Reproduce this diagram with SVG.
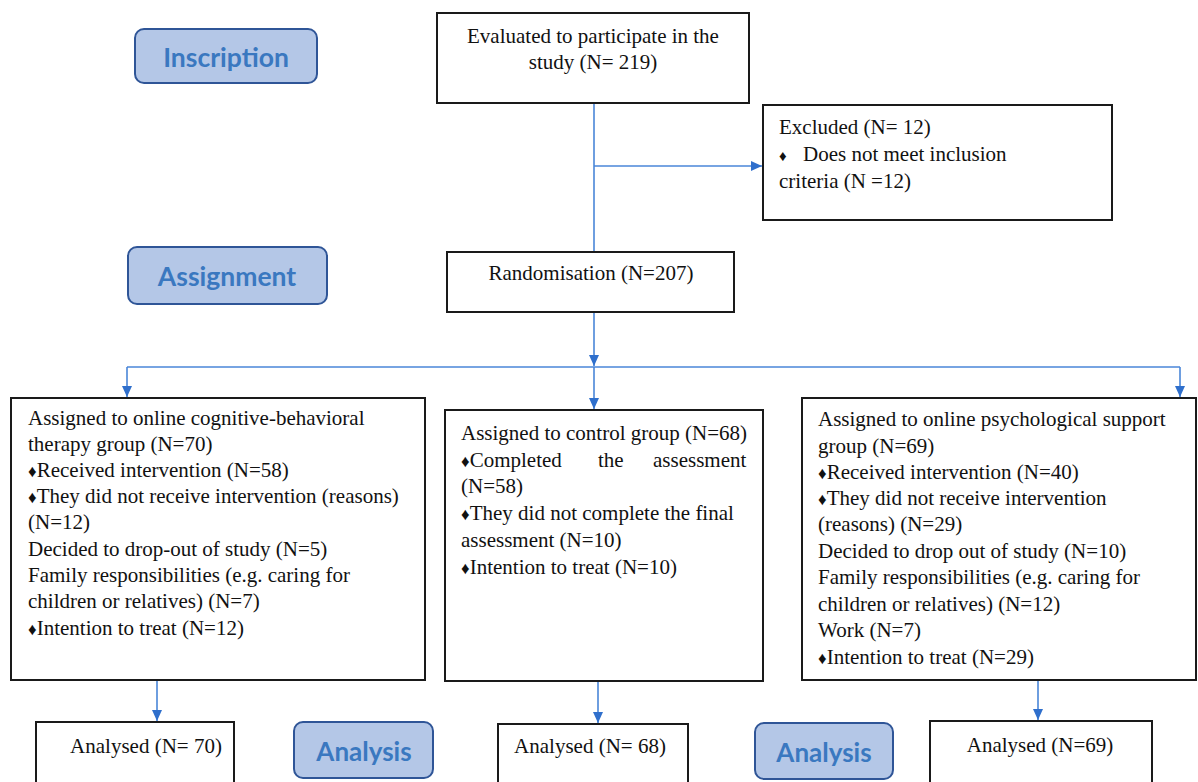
<svg xmlns="http://www.w3.org/2000/svg" width="1198" height="782" viewBox="0 0 1198 782">
<defs>
<marker id="ah" viewBox="0 0 10 10" refX="10" refY="5" markerWidth="11" markerHeight="10" markerUnits="userSpaceOnUse" orient="auto" preserveAspectRatio="none">
<path d="M0,0 L10,5 L0,10 z" fill="#2f6fcc"/>
</marker>
<style>
.box{fill:#fff;stroke:#1a1a1a;stroke-width:2}
.stage{fill:#b4c7e7;stroke:#2f5597;stroke-width:2}
.st{font-family:Lato,sans-serif;font-weight:bold;font-size:26.5px;fill:#3a78c0;text-anchor:middle}
.t{font-size:21px;fill:#111}
.c{text-anchor:middle}
.b{font-size:17px}
.con{fill:none;stroke:#4a86d8;stroke-width:1.6}
</style>
</defs>
<g id="connectors">
<line class="con" x1="594" y1="103" x2="594" y2="252"/>
<line class="con" x1="594" y1="166" x2="762" y2="166" marker-end="url(#ah)"/>
<line class="con" x1="594" y1="312" x2="594" y2="366" marker-end="url(#ah)"/>
<line class="con" x1="127" y1="367" x2="1180" y2="367"/>
<line class="con" x1="127" y1="367" x2="127" y2="397" marker-end="url(#ah)"/>
<line class="con" x1="1180" y1="367" x2="1180" y2="397" marker-end="url(#ah)"/>
<line class="con" x1="594" y1="367" x2="594" y2="409" marker-end="url(#ah)"/>
<line class="con" x1="157" y1="681" x2="157" y2="721" marker-end="url(#ah)"/>
<line class="con" x1="598" y1="682" x2="598" y2="723" marker-end="url(#ah)"/>
<line class="con" x1="1038" y1="681" x2="1038" y2="720" marker-end="url(#ah)"/>
</g>
<g id="stage-inscription">
<rect class="stage" x="135" y="29" width="182" height="54" rx="9"/>
<text class="st" x="226" y="67">Inscription</text>
</g>
<g id="stage-assignment">
<rect class="stage" x="128" y="247" width="199" height="57" rx="9"/>
<text class="st" x="227" y="286">Assignment</text>
</g>
<g id="stage-analysis1">
<rect class="stage" x="294" y="722" width="139" height="56" rx="9"/>
<text class="st" x="364" y="761" style="font-size:26px">Analysis</text>
</g>
<g id="stage-analysis2">
<rect class="stage" x="755" y="723" width="138" height="56" rx="9"/>
<text class="st" x="824" y="762" style="font-size:26px">Analysis</text>
</g>
<g font-family="Liberation Serif, serif">
<g id="evaluated">
<rect class="box" x="437" y="13" width="312" height="90"/>
<text class="t c" x="593" y="43">Evaluated to participate in the</text>
<text class="t c" x="593" y="69">study (N= 219)</text>
</g>
<g id="excluded">
<rect class="box" x="763" y="105" width="349" height="115"/>
<text class="t" x="779" y="134">Excluded (N= 12)</text>
<text class="t" x="779" y="161"><tspan class="b" style="font-size:15px">♦</tspan><tspan x="803">Does not meet inclusion</tspan></text>
<text class="t" x="779" y="188">criteria (N =12)</text>
</g>
<g id="randomisation">
<rect class="box" x="447" y="252" width="287" height="60"/>
<text class="t c" x="591" y="280">Randomisation (N=207)</text>
</g>
<g id="cbt-group">
<rect class="box" x="11" y="398" width="414" height="282"/>
<text class="t" x="28" y="425">Assigned to online cognitive-behavioral</text>
<text class="t" x="28" y="451">therapy group (N=70)</text>
<text class="t" x="28" y="477"><tspan class="b">♦</tspan>Received intervention (N=58)</text>
<text class="t" x="28" y="503"><tspan class="b">♦</tspan>They did not receive intervention (reasons)</text>
<text class="t" x="28" y="529">(N=12)</text>
<text class="t" x="28" y="556">Decided to drop-out of study (N=5)</text>
<text class="t" x="28" y="582">Family responsibilities (e.g. caring for</text>
<text class="t" x="28" y="608">children or relatives) (N=7)</text>
<text class="t" x="28" y="635"><tspan class="b">♦</tspan>Intention to treat (N=12)</text>
</g>
<g id="control-group">
<rect class="box" x="445" y="410" width="318" height="271"/>
<text class="t" x="461" y="440">Assigned to control group (N=68)</text>
<text class="t" x="461" y="467"><tspan class="b">♦</tspan>Completed</text>
<text class="t" x="598" y="467">the</text>
<text class="t" x="653" y="467">assessment</text>
<text class="t" x="461" y="493">(N=58)</text>
<text class="t" x="461" y="520"><tspan class="b">♦</tspan>They did not complete the final</text>
<text class="t" x="461" y="547">assessment (N=10)</text>
<text class="t" x="461" y="574"><tspan class="b">♦</tspan>Intention to treat (N=10)</text>
</g>
<g id="support-group">
<rect class="box" x="802" y="398" width="394" height="282"/>
<text class="t" x="818" y="426">Assigned to online psychological support</text>
<text class="t" x="818" y="453">group (N=69)</text>
<text class="t" x="818" y="479"><tspan class="b">♦</tspan>Received intervention (N=40)</text>
<text class="t" x="818" y="505"><tspan class="b">♦</tspan>They did not receive intervention</text>
<text class="t" x="818" y="531">(reasons) (N=29)</text>
<text class="t" x="818" y="558">Decided to drop out of study (N=10)</text>
<text class="t" x="818" y="584">Family responsibilities (e.g. caring for</text>
<text class="t" x="818" y="611">children or relatives) (N=12)</text>
<text class="t" x="818" y="637">Work (N=7)</text>
<text class="t" x="818" y="664"><tspan class="b">♦</tspan>Intention to treat (N=29)</text>
</g>
<g id="analysed-cbt">
<rect class="box" x="36" y="722" width="198" height="70"/>
<text class="t c" x="146" y="753">Analysed (N= 70)</text>
</g>
<g id="analysed-control">
<rect class="box" x="498" y="724" width="190" height="70"/>
<text class="t c" x="590" y="753">Analysed (N= 68)</text>
</g>
<g id="analysed-support">
<rect class="box" x="930" y="721" width="222" height="70"/>
<text class="t c" x="1040" y="752">Analysed (N=69)</text>
</g>
</g>
</svg>
